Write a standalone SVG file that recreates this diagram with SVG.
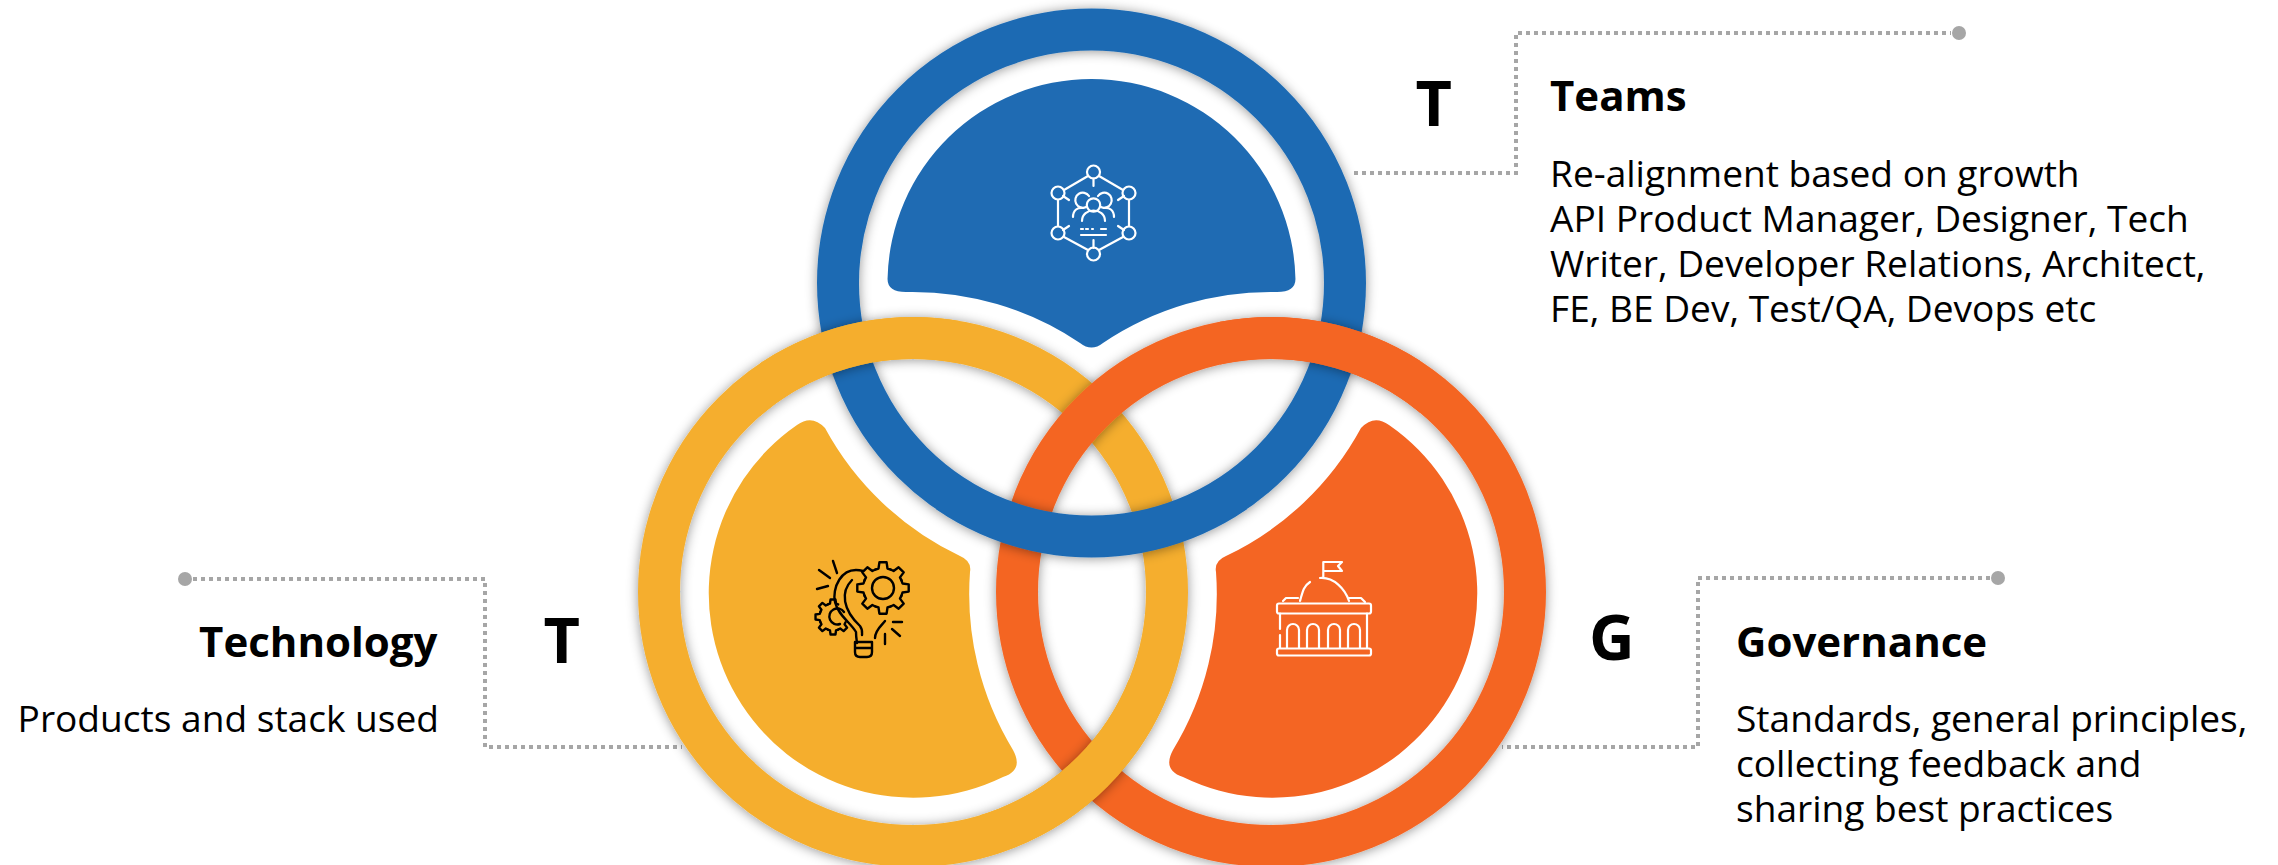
<svg xmlns="http://www.w3.org/2000/svg" xmlns:xlink="http://www.w3.org/1999/xlink" width="2278" height="865" viewBox="0 0 2278 865">
<style>
text{font-family:"Open Sans","Noto Sans","Liberation Sans",sans-serif;fill:#000}
.h{font-size:42px;font-weight:700}
.b{font-size:37.1px}
.l{font-size:63px;font-weight:700}
.e{text-anchor:end}
.ring{fill:none;stroke-width:42}
.link{fill:none;stroke:#a6a6a6;stroke-width:4;stroke-dasharray:4 4}
.dot{fill:#a6a6a6}
.iw{fill:none;stroke:#fff;stroke-width:2.2;stroke-linecap:round;stroke-linejoin:round}
.ik{fill:none;stroke:#000;stroke-width:2.4;stroke-linecap:round;stroke-linejoin:round}
</style>
<defs>
<filter id="sh" filterUnits="userSpaceOnUse" x="560" y="-40" width="1060" height="960">
<feDropShadow dx="0" dy="1" stdDeviation="6" flood-color="#000" flood-opacity="0.42"/>
</filter>
<clipPath id="blueBand"><path clip-rule="evenodd" d="M816.5,283a275,275 0 1,0 550,0a275,275 0 1,0 -550,0ZM858.5,283a233,233 0 1,0 466,0a233,233 0 1,0 -466,0Z"/></clipPath>
<clipPath id="orangeBand"><path clip-rule="evenodd" d="M996,592a275,275 0 1,0 550,0a275,275 0 1,0 -550,0ZM1038,592a233,233 0 1,0 466,0a233,233 0 1,0 -466,0Z"/></clipPath>
<clipPath id="tl"><rect x="760" y="250" width="200" height="180"/></clipPath>
<clipPath id="tr"><rect x="1220" y="250" width="200" height="180"/></clipPath>
<clipPath id="bm"><rect x="980" y="680" width="220" height="185"/></clipPath>
<path id="tooth" d="M-7.65,-18.48L-4.5,-19.5L-3.6,-25.7L3.6,-25.7L4.5,-19.5L7.65,-18.48"/>
</defs>

<g id="connectors">
<path class="link" d="M1354,173H1516V33H1951"/>
<circle class="dot" cx="1959" cy="33" r="7"/>
<path class="link" d="M193,579H485V747H682"/>
<circle class="dot" cx="185" cy="579" r="7"/>
<path class="link" d="M1990,578H1698V747H1502"/>
<circle class="dot" cx="1998" cy="578" r="7"/>
</g>

<g id="rings">
<circle class="ring" cx="913" cy="592" r="254" stroke="#F5AE2D" filter="url(#sh)"/>
<circle class="ring" cx="1271" cy="592" r="254" stroke="#F46523" filter="url(#sh)"/>
<circle class="ring" cx="1091.5" cy="283" r="253.5" stroke="#1F6BB3" filter="url(#sh)"/>
<g clip-path="url(#blueBand)"><g clip-path="url(#tl)"><circle class="ring" cx="913" cy="592" r="254" stroke="#F5AE2D" filter="url(#sh)"/></g></g>
<g clip-path="url(#tl)"><circle class="ring" cx="913" cy="592" r="254" stroke="#F5AE2D"/></g>
<g clip-path="url(#blueBand)"><g clip-path="url(#tr)"><circle class="ring" cx="1271" cy="592" r="254" stroke="#F46523" filter="url(#sh)"/></g></g>
<g clip-path="url(#tr)"><circle class="ring" cx="1271" cy="592" r="254" stroke="#F46523"/></g>
<g clip-path="url(#orangeBand)"><g clip-path="url(#bm)"><circle class="ring" cx="913" cy="592" r="254" stroke="#F5AE2D" filter="url(#sh)"/></g></g>
<g clip-path="url(#bm)"><circle class="ring" cx="913" cy="592" r="254" stroke="#F5AE2D"/></g>
</g>

<g id="node-teams">
<path fill="#1F6BB3" d="M887.54,279Q887.54,292 906,292A300,300 0 0 1 1080,343Q1091.5,352 1103,343A300,300 0 0 1 1277,292Q1295.46,292 1295.46,279A204,204 0 0 0 887.54,279Z"/>
<g class="iw">
<circle cx="1093.5" cy="172" r="6.5"/><circle cx="1129" cy="193" r="6.5"/><circle cx="1129" cy="233" r="6.5"/>
<circle cx="1093.5" cy="254" r="6.5"/><circle cx="1058" cy="233" r="6.5"/><circle cx="1058" cy="193" r="6.5"/>
<path d="M1099,176L1123,190M1088,176L1064,190M1129,200V226M1058,200V226M1123,237L1099,250M1064,237L1088,250"/>
<path d="M1093.5,178.500V186M1093.500,240V248M1118,200L1124,196M1069,200L1063,196M1118,226L1124,230M1069,226L1063,230"/>
<circle cx="1093.5" cy="205" r="6.700"/>
<path d="M1082,221C1082,207 1105,207 1105,221"/>
<path d="M1086,207A7.500,7.500 0 1 1 1089,196M1101,207A7.500,7.500 0 1 0 1098,196"/>
<path d="M1073,217C1073,210 1078,207 1083,208M1114,217C1114,210 1109,207 1104,208"/>
<path d="M1081,229H1083M1086,229H1088M1092,229H1093M1101,229H1106M1081,235H1106"/>
</g>
<text class="l" x="1415.500" y="126">T</text>
<text class="h" x="1550" y="111">Teams</text>
<text class="b" x="1550" y="187">Re-alignment based on growth</text>
<text class="b" x="1550" y="232">API Product Manager, Designer, Tech</text>
<text class="b" x="1550" y="277">Writer, Developer Relations, Architect,</text>
<text class="b" x="1550" y="322">FE, BE Dev, Test/QA, Devops etc</text>
</g>

<g id="node-technology">
<path fill="#F5AE2D" d="M797,425Q812,414 825,428A300,300 0 0 0 960,556Q972,561 970,572A300,300 0 0 0 1013,750Q1024,770 1003,777A204.500,204.500 0 0 1 797,425Z"/>
<g class="ik">
<path d="M863,571C840,565 832,590 835,602C838,615 850,622 856,632C856,638 857,642 857,643M875,638C875,630 882,625 885,621"/>
<path d="M852,580C840,592 843,610 860,626C863,630 862,633 862,635"/>
<path d="M855,642H872V652Q872,657 867,657H860Q855,657 855,652ZM855,648H872"/>
<path d="M819,570L830,578M833,561L837,573M817,589L828,586M893,622H902M892,629L900,636M885,634V644"/>
<circle cx="883" cy="588" r="11"/>
<g transform="translate(883,588)">
<use xlink:href="#tooth" href="#tooth" transform="rotate(0)"/><use xlink:href="#tooth" href="#tooth" transform="rotate(45)"/><use xlink:href="#tooth" href="#tooth" transform="rotate(90)"/><use xlink:href="#tooth" href="#tooth" transform="rotate(135)"/><use xlink:href="#tooth" href="#tooth" transform="rotate(180)"/><use xlink:href="#tooth" href="#tooth" transform="rotate(225)"/><use xlink:href="#tooth" href="#tooth" transform="rotate(270)"/><use xlink:href="#tooth" href="#tooth" transform="rotate(315)"/>
</g>
<path d="M844,612A8,8 0 1 0 840,624"/>
<g transform="translate(833,617) scale(.68)" stroke-width="3.5">
<use xlink:href="#tooth" href="#tooth" transform="rotate(0)"/><use xlink:href="#tooth" href="#tooth" transform="rotate(135)"/><use xlink:href="#tooth" href="#tooth" transform="rotate(180)"/><use xlink:href="#tooth" href="#tooth" transform="rotate(225)"/><use xlink:href="#tooth" href="#tooth" transform="rotate(270)"/><use xlink:href="#tooth" href="#tooth" transform="rotate(315)"/>
</g>
</g>
<text class="l" x="543.500" y="663">T</text>
<text class="h e" x="437.500" y="657">Technology</text>
<text class="b e" x="439" y="732">Products and stack used</text>
</g>

<g id="node-governance">
<path fill="#F46523" d="M1389,425Q1374,414 1361,428A300,300 0 0 1 1226,556Q1214,561 1216,572A300,300 0 0 1 1173,750Q1162,770 1183,777A204.500,204.500 0 0 0 1389,425Z"/>
<g class="iw" stroke-width="2">
<path d="M1323.300,577V562H1342L1338,566L1342,571H1324"/>
<path d="M1310,582C1304,586 1303,590 1300,601M1320,578C1334,577 1345,589 1349,601"/>
<path d="M1283,601L1286,598H1298M1349,598H1361L1365,602"/>
<rect x="1277" y="603.500" width="94" height="10" rx="2"/>
<path d="M1280,613.500V629M1280,635V648M1367,613.500V648"/>
<rect x="1277" y="648.500" width="94" height="7" rx="2"/>
<path d="M1287,648V630A6,6 0 0 1 1299,630V648M1307,648V630A6,6 0 0 1 1319,630V648M1328,648V630A6,6 0 0 1 1340,630V648M1348,648V630A6,6 0 0 1 1360,630V648"/>
</g>
<text class="l" x="1589" y="660">G</text>
<text class="h" x="1736" y="657">Governance</text>
<text class="b" x="1736" y="732">Standards, general principles,</text>
<text class="b" x="1736" y="777">collecting feedback and</text>
<text class="b" x="1736" y="822">sharing best practices</text>
</g>
</svg>
